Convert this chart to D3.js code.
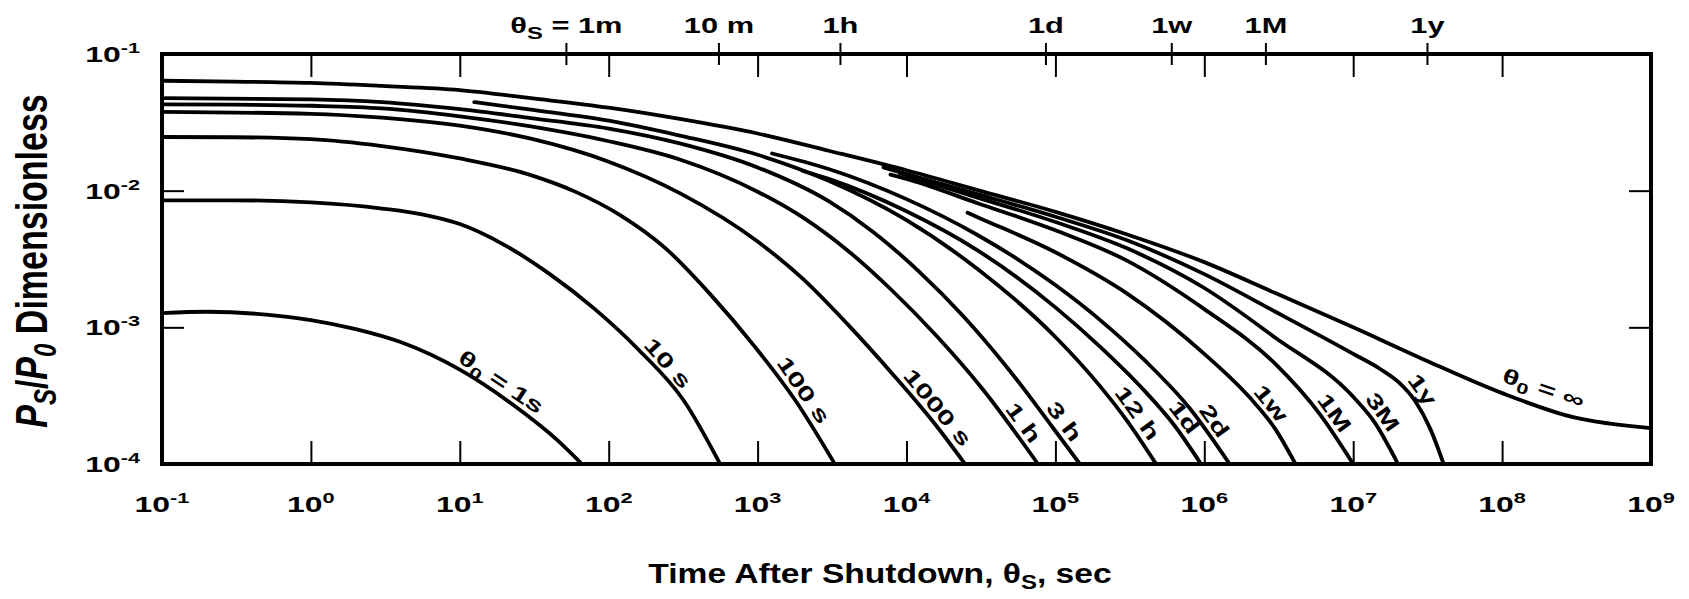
<!DOCTYPE html>
<html>
<head>
<meta charset="utf-8">
<script src="https://d3js.org/d3.v7.min.js"></script>
<style>
  body { margin: 0; background: #fff; }
  svg { display: block; }
  text { font-family: "Liberation Sans", Arial, Helvetica, sans-serif; font-weight: bold; fill: #000; }
</style>
</head>
<body>
<div id="chart"></div>
<script>
// Decay power after shutdown Ps/P0 against time after shutdown (s),
// one curve per operating time theta0. Values.
const pInf  = [[0.1,0.0637],[0.3,0.0628],[1,0.0614],[3,0.0584],[10,0.0545],[30,0.0475],[100,0.0405],[300,0.0335],[1000,0.0262],[3000,0.0196],[1e4,0.0141],[3e4,0.0101],[1e5,0.0070],[3e5,0.0048],[1e6,0.0030],[3e6,0.00178],[1e7,0.00100],[3e7,0.00058],[1e8,0.00033],[3e8,0.00022],[1e9,0.000183]];
const p1s   = [[0.1,0.00127],[0.2,0.0013],[0.5,0.00124],[1,0.00113],[2,0.00097],[4,0.00078],[10,0.00049],[24,0.00026],[45,0.00015],[66,0.0001]];
const p10s  = [[0.1,0.0085],[0.3,0.0085],[1,0.0082],[3,0.0074],[6,0.0066],[10,0.0057],[20,0.0040],[40,0.00246],[80,0.00137],[160,0.00068],[320,0.00029],[560,0.0001]];
const p100s = [[0.1,0.0247],[0.3,0.0246],[1,0.0238],[3,0.0212],[10,0.0172],[30,0.0130],[60,0.0098],[120,0.0066],[240,0.0038],[480,0.00175],[960,0.00072],[1800,0.00029],[3300,0.0001]];
const p1000s = [[0.1,0.0377],[1,0.0365],[3,0.0342],[10,0.0299],[30,0.0240],[100,0.0163],[300,0.0096],[1000,0.00425],[2000,0.00228],[4000,0.00106],[8000,0.00046],[16000,0.000188],[24700,0.0001]];
const p1h   = [[0.1,0.0428],[0.3,0.0426],[1,0.0418],[3,0.0400],[10,0.0350],[30,0.0295],[100,0.0230],[300,0.0169],[1000,0.00983],[2000,0.0064],[4000,0.00367],[8000,0.00186],[16000,0.00086],[32000,0.00036],[76400,0.0001]];
const p3h   = [[0.1,0.0476],[1,0.0466],[3,0.0445],[10,0.0395],[30,0.0340],[100,0.0285],[300,0.0222],[1000,0.0148],[3000,0.00837],[6000,0.00497],[12000,0.00259],[24000,0.00121],[48000,0.00050],[96000,0.000185],[146000,0.0001]];
const p12h  = [[12.5,0.0445],[30,0.0392],[100,0.0325],[300,0.0253],[1000,0.0183],[3000,0.0118],[1e4,0.00608],[3e4,0.00267],[1e5,0.00085],[2e5,0.00037],[303000,0.000207],[475000,0.0001]];
const p1d   = [[2000,0.0140],[3000,0.0122],[1e4,0.00707],[3e4,0.00366],[1e5,0.0014],[2e5,0.00072],[4e5,0.00034],[627000,0.000193],[950000,0.0001]];
const p2d   = [[1250,0.0187],[3000,0.0144],[1e4,0.00867],[3e4,0.00474],[1e5,0.00204],[2e5,0.00113],[4e5,0.00057],[8e5,0.000255],[1480000,0.0001]];
const p1w   = [[25700,0.0069],[3e4,0.0064],[1e5,0.00354],[3e5,0.00178],[1e6,0.00064],[2e6,0.00031],[3e6,0.00018],[4.1e6,0.0001]];
const p1M   = [[7800,0.0131],[1e4,0.0122],[3e4,0.0081],[1e5,0.00513],[3e5,0.00309],[1e6,0.00136],[3e6,0.00054],[6e6,0.00023],[1e7,0.0001]];
const p3M   = [[9000,0.0134],[3e4,0.0089],[1e5,0.0059],[3e5,0.0038],[1e6,0.00194],[3e6,0.00084],[1e7,0.00031],[1.4e7,0.0002],[2e7,0.0001]];
const p1y   = [[7000,0.0148],[3e4,0.00944],[1e5,0.00644],[3e5,0.00435],[1e6,0.00245],[3e6,0.0013],[1e7,0.00064],[1.5e7,0.0005],[2e7,0.0004],[2.6e7,0.00029],[3.3e7,0.00018],[4.05e7,0.0001]];

const curveNames = ["1s", "10 s", "100 s", "1000 s", "1 h", "3 h", "12 h", "1d", "2d", "1w", "1M", "3M", "1y", "inf"];
const curveData  = [p1s, p10s, p100s, p1000s, p1h, p3h, p12h, p1d, p2d, p1w, p1M, p3M, p1y, pInf];
// theta_s where each curve carries its label
const labelTimes = [17, 215, 1730, 13900, 52000, 97900, 303000, 627000, 995000, 2.4e6, 6.37e6, 1.34e7, 2.48e7, 1.74e8];

const xExps = [-1, 0, 1, 2, 3, 4, 5, 6, 7, 8, 9];
const yExps = [-1, -2, -3, -4];
// time marks along the top, where the figure draws them
const topTimes  = [52, 550, 3600, 86400, 604800, 2592000, 31536000];
const topLabels = ["1m", "10 m", "1h", "1d", "1w", "1M", "1y"];

const margin = {top: 54, right: 38, bottom: 135, left: 162},
      W = 1689, H = 599,
      width = W - margin.left - margin.right,
      height = H - margin.top - margin.bottom;

const svg = d3.select("#chart").append("svg")
    .attr("width", W)
    .attr("height", H);

const g = svg.append("g")
    .attr("transform", `translate(${margin.left},${margin.top})`);

const x = d3.scaleLog().domain([0.1, 1e9]).range([0, width]);
const y = d3.scaleLog().domain([1e-4, 0.1]).range([height, 0]);

// inside ticks on all four sides
const xInner = xExps.slice(1, -1).map(e => Math.pow(10, e));
const yInner = [1e-2, 1e-3];
const plain = sel => {
  sel.select(".domain").remove();
  sel.selectAll("text").remove();
  sel.selectAll("line").attr("stroke", "#000").attr("stroke-width", 2);
};
g.append("g").attr("transform", `translate(0,${height})`)
  .call(d3.axisBottom(x).tickValues(xInner).tickSize(-23)).call(plain);
g.append("g")
  .call(d3.axisTop(x).tickValues(xInner).tickSize(-23)).call(plain);
g.append("g")
  .call(d3.axisLeft(y).tickValues(yInner).tickSize(-22)).call(plain);
g.append("g").attr("transform", `translate(${width},0)`)
  .call(d3.axisRight(y).tickValues(yInner).tickSize(-22)).call(plain);

// time marks on the top edge
g.append("g").selectAll("line")
  .data(topTimes)
  .join("line")
  .attr("x1", d => x(d)).attr("x2", d => x(d))
  .attr("y1", -11).attr("y2", 11)
  .attr("stroke", "#000").attr("stroke-width", 2);

const topText = g.append("g").selectAll("text")
  .data(topLabels)
  .join("text")
  .attr("transform", (d, i) => `translate(${x(topTimes[i])},-21) scale(1.4,1)`)
  .attr("text-anchor", "middle")
  .style("font-size", "22px");
topText.each(function(d, i) {
  const t = d3.select(this);
  if (i === 0) {
    t.append("tspan").text("\u03b8");
    t.append("tspan").attr("dy", 6).style("font-size", "17px").text("S");
    t.append("tspan").attr("dy", -6).text(" = " + d);
  } else {
    t.text(d);
  }
});

// frame
g.append("rect")
  .attr("width", width)
  .attr("height", height)
  .attr("fill", "none")
  .attr("stroke", "#000")
  .attr("stroke-width", 4);

// tick labels with exponents
const xLab = g.append("g").selectAll("text")
  .data(xExps)
  .join("text")
  .attr("transform", e => `translate(${x(Math.pow(10, e))},${height + 48}) scale(1.45,1)`)
  .attr("text-anchor", "middle")
  .style("font-size", "22px");
xLab.append("tspan").text("10");
xLab.append("tspan").attr("dy", -9).style("font-size", "15px").text(e => e);

const yLab = g.append("g").selectAll("text")
  .data(yExps)
  .join("text")
  .attr("transform", e => `translate(-22,${y(Math.pow(10, e)) + 8}) scale(1.45,1)`)
  .attr("text-anchor", "end")
  .style("font-size", "22px");
yLab.append("tspan").text("10");
yLab.append("tspan").attr("dy", -9).style("font-size", "15px").text(e => e);

// axis titles
const xTitle = svg.append("text")
  .attr("transform", "translate(880,583) scale(1.2,1)")
  .attr("text-anchor", "middle")
  .style("font-size", "28px");
xTitle.append("tspan").text("Time After Shutdown, \u03b8");
xTitle.append("tspan").attr("dy", 6).style("font-size", "20px").text("S");
xTitle.append("tspan").attr("dy", -6).text(", sec");

const yTitle = svg.append("text")
  .attr("transform", "translate(47,261) rotate(-90) scale(1,1.3)")
  .attr("text-anchor", "middle")
  .style("font-size", "34px");
yTitle.append("tspan").style("font-style", "italic").text("P");
yTitle.append("tspan").attr("dy", 7).style("font-style", "italic").style("font-size", "24px").text("S");
yTitle.append("tspan").attr("dy", -7).text("/");
yTitle.append("tspan").style("font-style", "italic").text("P");
yTitle.append("tspan").attr("dy", 7).style("font-style", "italic").style("font-size", "24px").text("0");
yTitle.append("tspan").attr("dy", -7).text(" Dimensionless");

// curves
svg.append("defs").append("clipPath").attr("id", "plot-clip")
  .append("rect").attr("width", width).attr("height", height);

const series = curveNames.map((name, i) => ({name, values: curveData[i], labelAt: labelTimes[i]}));

const line = d3.line()
  .x(d => x(d[0]))
  .y(d => y(d[1]))
  .curve(d3.curveMonotoneX);

g.append("g")
  .attr("clip-path", "url(#plot-clip)")
  .selectAll("path")
  .data(series)
  .join("path")
  .attr("d", d => line(d.values))
  .attr("fill", "none")
  .attr("stroke", "#000")
  .attr("stroke-width", 3.8)
  .attr("stroke-linecap", "round");

// log-log interpolation along a curve, used to sit labels on it
function valueAt(vals, t) {
  let i = 1;
  while (i < vals.length - 1 && t > vals[i][0]) i++;
  const a = vals[i - 1], b = vals[i];
  const f = (Math.log10(t) - Math.log10(a[0])) / (Math.log10(b[0]) - Math.log10(a[0]));
  return Math.pow(10, Math.log10(a[1]) + f * (Math.log10(b[1]) - Math.log10(a[1])));
}

series.forEach(s => {
  const t = s.labelAt;
  const x1 = x(t / 1.2), y1 = y(valueAt(s.values, t / 1.2));
  const x2 = x(t * 1.2), y2 = y(valueAt(s.values, t * 1.2));
  const a = Math.atan2(y2 - y1, x2 - x1);
  const off = s.name === "inf" ? 18 : 13;
  const px = x(t) + Math.sin(a) * off;
  const py = y(valueAt(s.values, t)) - Math.cos(a) * off;
  const lab = g.append("text")
    .attr("transform", `translate(${px},${py}) rotate(${a * 180 / Math.PI}) scale(1.45,1)`)
    .attr("text-anchor", "middle")
    .attr("dy", "0.35em")
    .style("font-size", "21px");
  if (s.name === "1s" || s.name === "inf") {
    lab.append("tspan").text("\u03b8");
    lab.append("tspan").attr("dy", 5).style("font-size", "15px").text("0");
    lab.append("tspan").attr("dy", -5).text(s.name === "1s" ? " = 1s" : " = \u221e");
  } else {
    lab.text(s.name);
  }
});
</script>
</body>
</html>
